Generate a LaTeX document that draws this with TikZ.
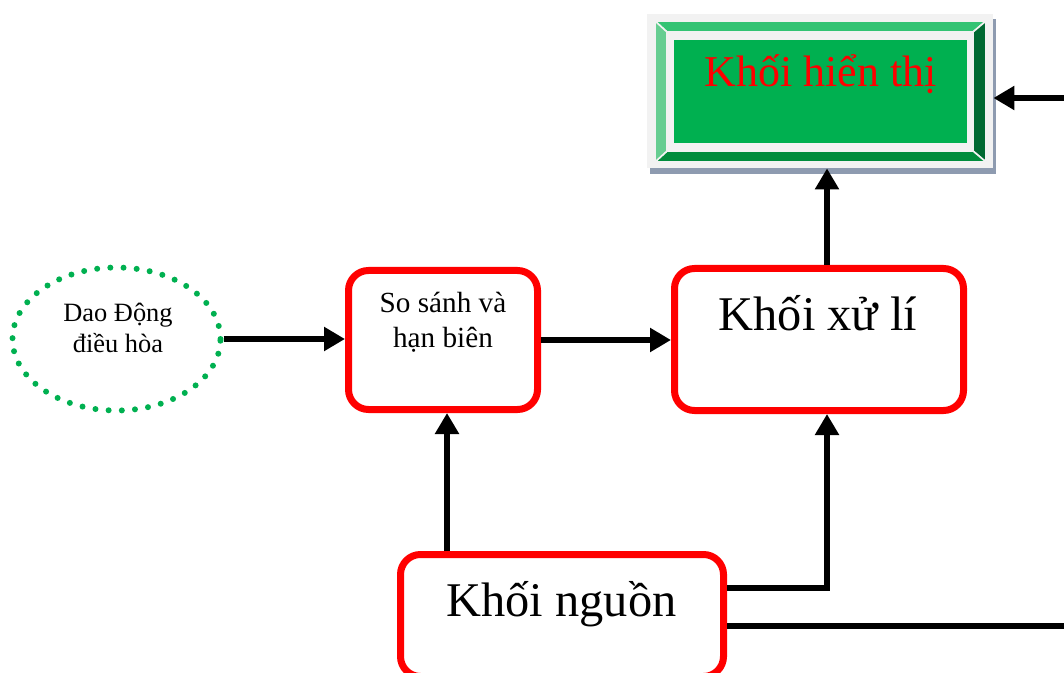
\documentclass[tikz,border=0pt]{standalone}
\usepackage{fontspec}
\setmainfont{Liberation Serif}
\usetikzlibrary{arrows.meta,shapes.geometric}

\definecolor{boxred}{RGB}{255,0,0}
\definecolor{dotgreen}{RGB}{0,176,80}
\definecolor{dispgreen}{RGB}{0,176,80}
\definecolor{bevtop}{RGB}{51,195,115}
\definecolor{bevleft}{RGB}{102,205,145}
\definecolor{bevright}{RGB}{0,105,50}
\definecolor{bevbottom}{RGB}{0,140,60}
\definecolor{framegray}{RGB}{242,242,242}
\definecolor{shadowgray}{RGB}{142,155,176}

\begin{document}
\begin{tikzpicture}[x=0.5pt, y=-0.5pt,
    block/.style={draw=boxred, line width=3.5pt, rounded corners=10pt, inner sep=0pt},
    conn/.style={line width=3pt, -{Triangle[length=10.5pt,width=11.5pt]}},
    wire/.style={line width=3pt},
    bevel/.style={draw=framegray, line width=0.8pt}]
  \useasboundingbox (0,0) rectangle (1064,673);

  % display block with bevelled frame
  \fill[shadowgray] (650,19) rectangle (996,174);
  \fill[framegray] (647,14) rectangle (993,168);
  \filldraw[bevel, fill=bevtop] (655,21) -- (986,21) -- (973,32) -- (667,32) -- cycle;
  \filldraw[bevel, fill=bevright] (986,21) -- (986,162) -- (973,151) -- (973,32) -- cycle;
  \filldraw[bevel, fill=bevbottom] (655,162) -- (986,162) -- (973,151) -- (667,151) -- cycle;
  \filldraw[bevel, fill=bevleft] (655,21) -- (655,162) -- (667,151) -- (667,32) -- cycle;
  \fill[framegray] (667,32) rectangle (973,151);
  \fill[dispgreen] (674,40) rectangle (967,143);
  \node[minimum width=173pt, minimum height=77pt, inner sep=0pt] (disp) at (820,91) {};
  \node[text=boxred, font=\fontsize{22}{26}\selectfont, anchor=base] (disptxt) at (820.5,87) {Khối hiển thị};

  % oscillator
  \node[ellipse, draw=dotgreen, line width=3pt, line cap=round, dash pattern=on 0pt off 6.6pt,
        minimum width=104pt, minimum height=71.5pt, inner sep=0pt] (osc) at (116.5,339) {};
  \node[align=center, font=\fontsize{13.2}{15.5}\selectfont] (osctxt) at (118,328) {Dao Động\\điều hòa};

  % blocks
  \node[block, minimum width=94.5pt, minimum height=69.5pt] (cmp) at (443,340) {};
  \node[align=center, font=\fontsize{14.6}{17.5}\selectfont] (cmptxt) at (443,322) {So sánh và\\hạn biên};

  \node[block, minimum width=144.5pt, minimum height=71pt] (proc) at (819,339.5) {};
  \node[font=\fontsize{24.2}{29}\selectfont, anchor=base] (proctxt) at (818,330) {Khối xử lí};

  \node[block, minimum width=161.5pt, minimum height=61pt] (pwr) at (562,615.5) {};
  \node[font=\fontsize{24.2}{29}\selectfont, anchor=base] (pwrtxt) at (561.5,616) {Khối nguồn};

  \coordinate (dispin) at (1064,98);
  \coordinate (pwrout) at (1064,626);

  % signal path
  \draw[conn] (osc.east) -- (osc.east -| cmp.west);
  \draw[conn] (cmp.east) -- (cmp.east -| proc.west);
  \draw[conn] ([xshift=4pt]proc.north) -- ([xshift=4pt]proc.north |- disp.south);
  \draw[conn] (dispin) -- (dispin -| disp.east);

  % supply lines
  \draw[conn] ([xshift=2pt]cmp.south |- pwr.north) -- ([xshift=2pt]cmp.south);
  \draw[conn] ([yshift=14pt]pwr.east) -| ([xshift=4pt]proc.south);
  \draw[wire] (pwrout -| pwr.east) -- (pwrout);
\end{tikzpicture}
\end{document}
